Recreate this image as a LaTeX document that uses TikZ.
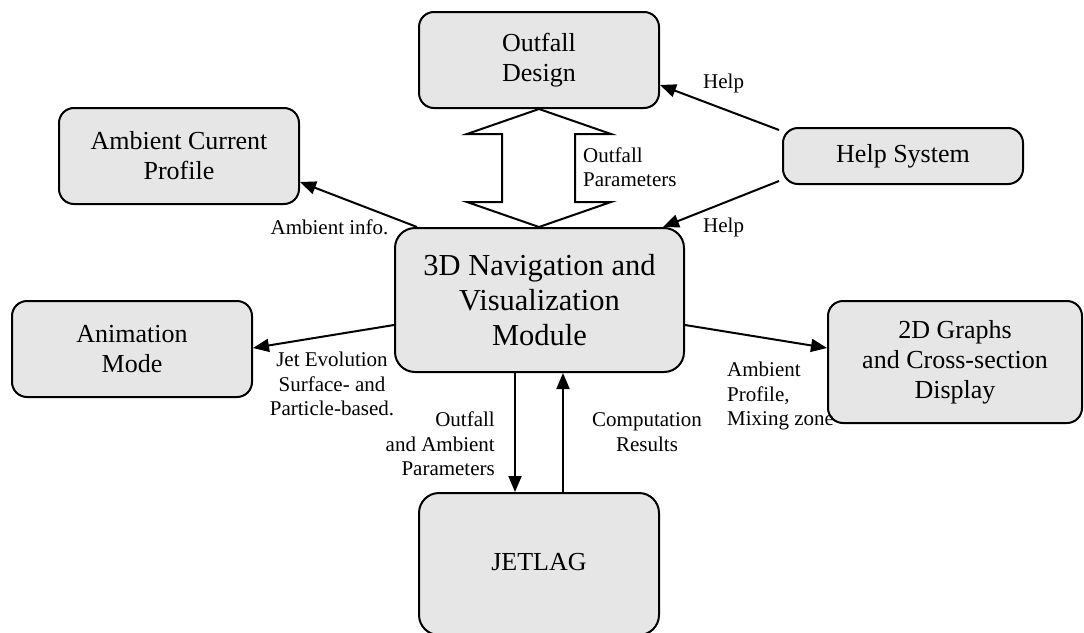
\documentclass[tikz,border=0pt]{standalone}
\usepackage{fontspec}
\setmainfont{Liberation Serif}
\usetikzlibrary{arrows.meta,calc}
\definecolor{boxgray}{HTML}{E6E6E6}
\begin{document}
\begin{tikzpicture}[x=1pt,y=-1pt,
  box/.style={draw, line width=2pt, fill=boxgray, rounded corners=15pt, align=center,
    inner sep=0pt, font=\fontsize{26}{30}\selectfont},
  bigbox/.style={box, rounded corners=20pt, font=\fontsize{30.5}{35}\selectfont},
  lbl/.style={inner sep=0pt, font=\fontsize{21}{24.5}\selectfont},
  arr/.style={line width=2pt, -{Triangle[length=16pt,width=13pt]}}]
\useasboundingbox (0,0) rectangle (1084,632);

\node[box, minimum width=240pt, minimum height=96pt] (od) at (539,60) {Outfall\\Design};
\node[box, minimum width=240pt, minimum height=96pt] (acp) at (179,156) {Ambient Current\\Profile};
\node[box, minimum width=240pt, minimum height=56pt] (hs) at (903,156) {Help System};
\node[bigbox, minimum width=289pt, minimum height=144pt] (nav) at (539.5,300) {3D Navigation and\\Visualization\\Module};
\node[box, minimum width=240pt, minimum height=96pt] (anim) at (132,349) {Animation\\Mode};
\node[box, minimum width=254pt, minimum height=122pt] (g2d) at (955,362) {2D Graphs\\and Cross-section\\Display};
\node[box, rounded corners=20pt, minimum width=240pt, minimum height=142pt, text depth=0pt] (jet) at (539,564) {\raisebox{4pt}{JETLAG}};

% double block arrow
\coordinate (dt) at (od.south);
\coordinate (db) at (od.south |- nav.north);
\draw[line width=2pt, fill=white, line join=miter]
  (dt) -- ($(dt)+(72,25)$) -- ($(dt)+(36,25)$) -- ($(db)+(36,-25)$) -- ($(db)+(72,-25)$)
  -- (db) -- ($(db)+(-72,-25)$) -- ($(db)+(-37,-25)$) -- ($(dt)+(-37,25)$) -- ($(dt)+(-72,25)$) -- cycle;

% arrows
\draw[arr] ([xshift=-3pt,yshift=-3pt]hs.north west) -- ([yshift=-25pt]od.east);
\draw[arr] ([xshift=-3pt,yshift=4pt]hs.south west) -- ([xshift=-22pt]nav.north east);
\draw[arr] ([xshift=23pt]nav.north west) -- ([yshift=23pt]acp.south east);
\draw[arr] ([yshift=-25pt]nav.west) -- ([yshift=1pt]anim.east);
\draw[arr] ([yshift=-25pt]nav.east) -- ([yshift=14pt]g2d.west);
\draw[arr] ([xshift=-24pt]jet.north |- nav.south) -- ([xshift=-24pt]jet.north);
\draw[arr] ([xshift=24pt]jet.north) -- ([xshift=24pt]jet.north |- nav.south);

% labels
\node[lbl, anchor=west] (lh1) at (703,83) {Help};
\node[lbl, anchor=west] (lh2) at (703,227) {Help};
\node[lbl, anchor=west, align=left] (lop) at (583,167) {Outfall\\Parameters};
\node[lbl] (lai) at (329.5,227) {Ambient info.};
\node[lbl, align=center] (lje) at (332,384) {Jet Evolution\\Surface- and\\Particle-based.};
\node[lbl, anchor=west, align=left] (lap) at (727,396) {Ambient\\Profile,\\Mixing zone};
\node[lbl, anchor=east, align=right] (loa) at (495,444) {Outfall\\and Ambient\\Parameters};
\node[lbl, align=center] (lcr) at (647,432) {Computation\\Results};
\end{tikzpicture}
\end{document}
